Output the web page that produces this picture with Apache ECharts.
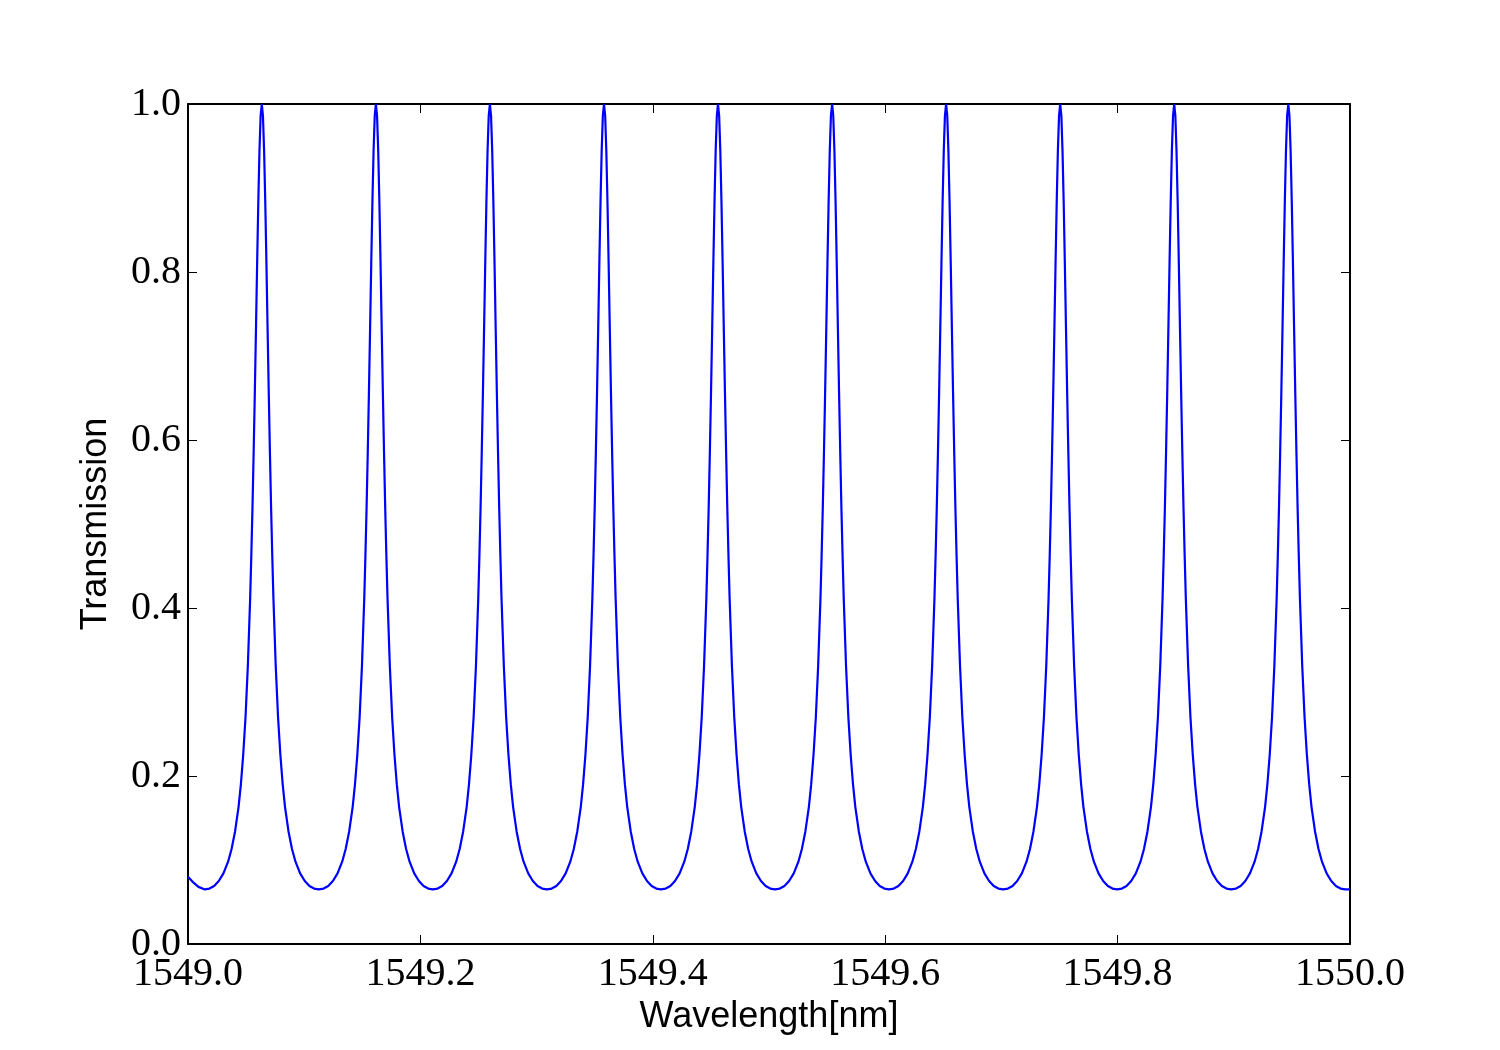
<!DOCTYPE html>
<html lang="en">
<head>
    <meta charset="UTF-8">
    <title>Transmission</title>
    <style>
        html, body { margin: 0; padding: 0; background: #fff; }
    </style>
</head>
<body>
    <div id="main" style="width: 1500px; height: 1050px;"></div>
</body>
<script src="https://cdn.jsdelivr.net/npm/echarts@6/dist/echarts.min.js"></script>
<script>
    // resonance peaks (nm)
    var peakCenters = [1549.0635, 1549.1617, 1549.2598, 1549.3580, 1549.4561,
                       1549.5543, 1549.6524, 1549.7506, 1549.8487, 1549.9469];
    // shape of one peak: distance from the centre (nm) and transmission there
    var profileOffset = [0, 0.001, 0.002, 0.003, 0.004, 0.005, 0.006, 0.007, 0.008, 0.009,
                         0.010, 0.012, 0.014, 0.016, 0.018, 0.020, 0.023, 0.026, 0.029,
                         0.033, 0.037, 0.041, 0.045, 0.049];
    var profileValue = [1.0, 0.986, 0.944, 0.883, 0.810, 0.732, 0.656, 0.585, 0.520, 0.463,
                        0.412, 0.331, 0.270, 0.225, 0.190, 0.163, 0.134, 0.113, 0.098,
                        0.084, 0.075, 0.069, 0.066, 0.065];
    // curve at the two ends of the window
    var headX = [1549.0, 1549.004, 1549.009];
    var headY = [0.080, 0.074, 0.068];
    var tailX = [1550.0];
    var tailY = [0.065];

    var xTicks = [1549.0, 1549.2, 1549.4, 1549.6, 1549.8, 1550.0];
    var yTicks = [0.0, 0.2, 0.4, 0.6, 0.8, 1.0];

    var data = [];
    headX.forEach(function (x, i) { data.push([x, headY[i]]); });
    peakCenters.forEach(function (c) {
        for (var i = profileOffset.length - 1; i > 0; i--) {
            data.push([c - profileOffset[i], profileValue[i]]);
        }
        data.push([c, profileValue[0]]);
        for (var j = 1; j < profileOffset.length; j++) {
            data.push([c + profileOffset[j], profileValue[j]]);
        }
    });
    tailX.forEach(function (x, i) { data.push([x, tailY[i]]); });

    var tickFont = { fontFamily: 'Liberation Serif', fontSize: 40, color: '#000' };
    var inTicks = { show: true, inside: true, length: 9, lineStyle: { color: '#000', width: 1 } };
    var spine = { show: true, onZero: false, lineStyle: { color: '#000', width: 2 } };

    var myChart = echarts.init(document.getElementById('main'));
    var option = {
        animation: false,
        backgroundColor: '#fff',
        grid: { left: 188, right: 150, top: 104, bottom: 106, containLabel: false },
        xAxis: [{
            type: 'value',
            min: xTicks[0],
            max: xTicks[xTicks.length - 1],
            interval: 0.2,
            name: 'Wavelength[nm]',
            nameLocation: 'middle',
            nameGap: 50,
            nameTextStyle: { fontFamily: 'Liberation Sans', fontSize: 36, color: '#000' },
            axisLine: spine,
            axisTick: inTicks,
            splitLine: { show: false },
            axisLabel: Object.assign({
                margin: 10,
                formatter: function (v) { return v.toFixed(1); }
            }, tickFont)
        }, {
            type: 'value',
            position: 'top',
            min: xTicks[0],
            max: xTicks[xTicks.length - 1],
            interval: 0.2,
            axisLine: spine,
            axisTick: inTicks,
            splitLine: { show: false },
            axisLabel: { show: false }
        }],
        yAxis: [{
            type: 'value',
            min: yTicks[0],
            max: yTicks[yTicks.length - 1],
            interval: 0.2,
            name: 'Transmission',
            nameLocation: 'middle',
            nameGap: 74,
            nameTextStyle: { fontFamily: 'Liberation Sans', fontSize: 36, color: '#000' },
            axisLine: spine,
            axisTick: inTicks,
            splitLine: { show: false },
            axisLabel: Object.assign({
                margin: 7,
                formatter: function (v) { return v.toFixed(1); }
            }, tickFont)
        }, {
            type: 'value',
            position: 'right',
            min: yTicks[0],
            max: yTicks[yTicks.length - 1],
            interval: 0.2,
            axisLine: spine,
            axisTick: inTicks,
            splitLine: { show: false },
            axisLabel: { show: false }
        }],
        series: [{
            type: 'line',
            data: data,
            showSymbol: false,
            smooth: false,
            lineStyle: { color: '#0000ff', width: 2.2 },
            clip: true
        }]
    };
    myChart.setOption(option);
</script>
</html>
